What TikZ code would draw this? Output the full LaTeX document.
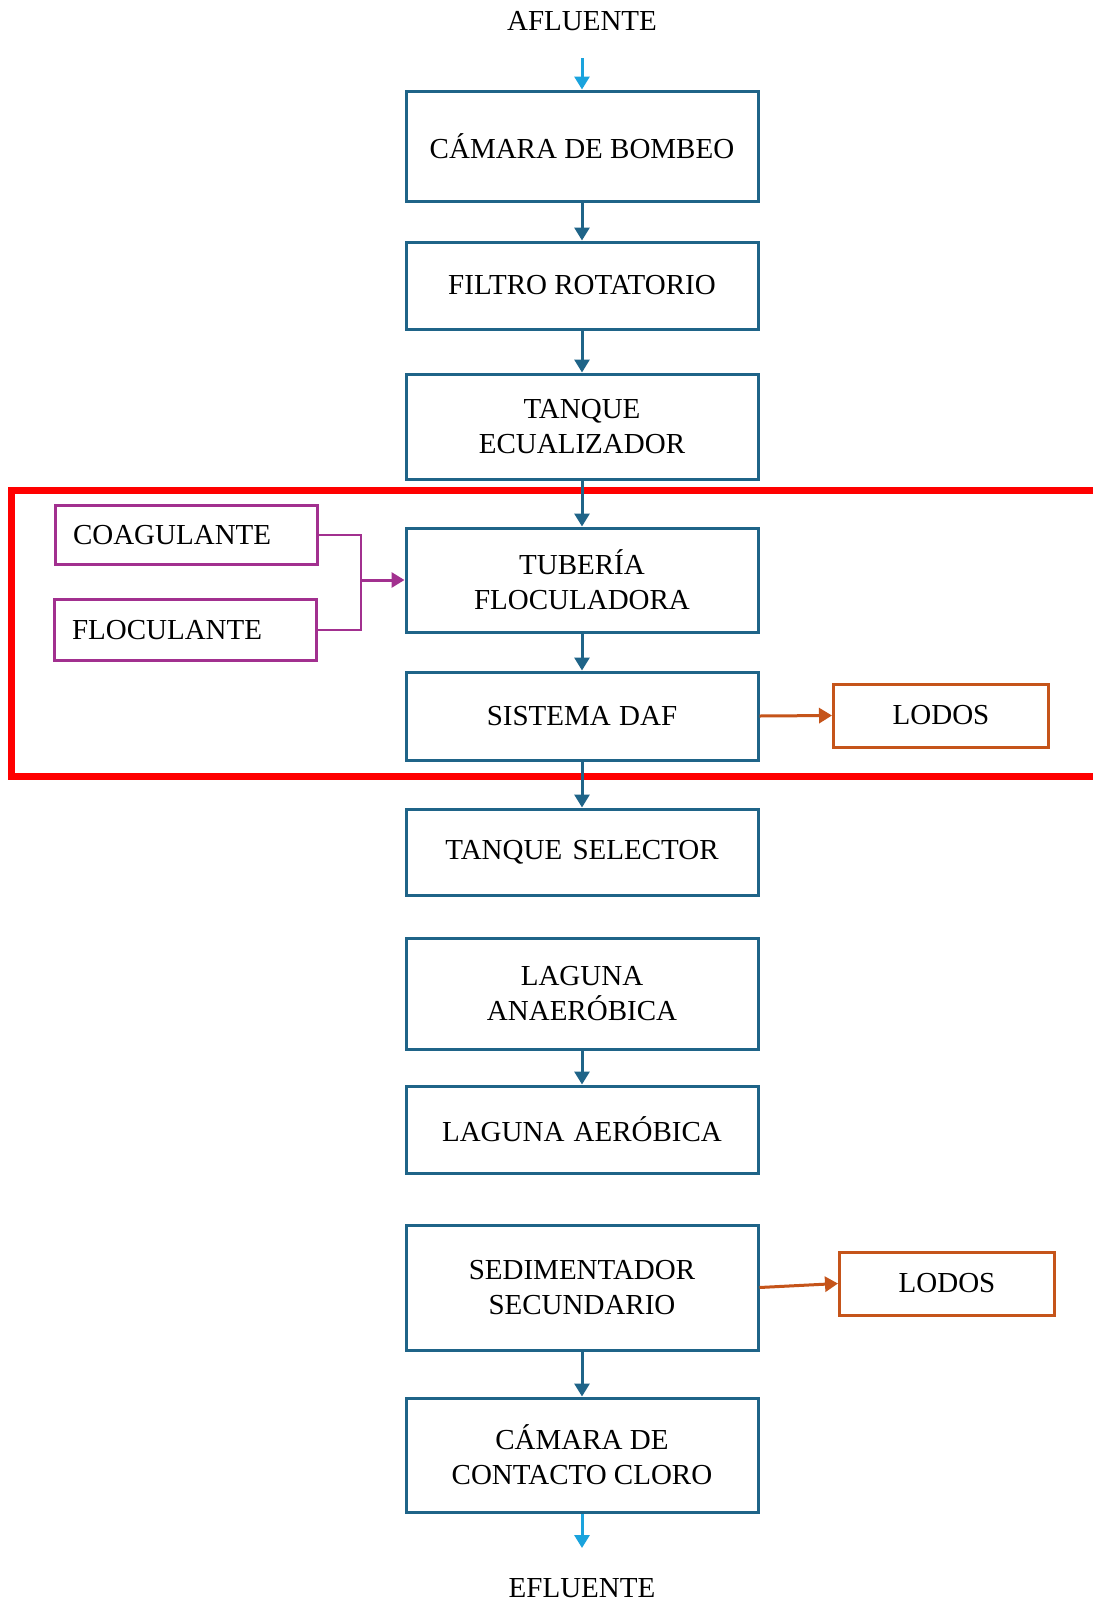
\documentclass[tikz,border=0pt]{standalone}
\usepackage{fontspec}
\setmainfont{Liberation Serif}
\usetikzlibrary{arrows.meta}
\definecolor{boxblue}{HTML}{1F6488}
\definecolor{lightblue}{HTML}{1AA3DD}
\definecolor{purp}{HTML}{A2308F}
\definecolor{orng}{HTML}{C5541A}
\definecolor{redline}{HTML}{FF0000}
\tikzset{
  mainbox/.style={draw=boxblue, line width=3pt, minimum width=352pt, align=center, inner sep=0pt, font=\fontsize{29}{35}\selectfont},
  sidebox/.style={draw=orng, line width=3pt, minimum width=215pt, minimum height=63pt, inner sep=0pt, font=\fontsize{29}{35}\selectfont},
  chembox/.style={draw=purp, line width=3pt, text width=226pt, inner xsep=18pt, inner ysep=0pt, align=left, font=\fontsize{29}{35}\selectfont},
  plain/.style={inner sep=0pt, font=\fontsize{29}{35}\selectfont},
  tip/.style={-{Triangle[length=13pt,width=15pt]}},
  flow/.style={draw=boxblue, line width=3pt, tip},
  ioflow/.style={draw=lightblue, line width=3pt, tip},
  sludge/.style={draw=orng, line width=3pt, tip},
  chemline/.style={draw=purp, line width=1.6pt},
  chemflow/.style={draw=purp, line width=3pt, tip},
}
\begin{document}
\begin{tikzpicture}[x=1pt,y=-1pt]
\useasboundingbox (0,0) rectangle (1093,1601);
\fill[white] (0,0) rectangle (1093,1601);

% red frame (open to the right)
\draw[redline, line width=7pt] (1093,490) -- (11.5,490) -- (11.5,776) -- (1093,776);

\node[plain] (afl) at (582,21) {AFLUENTE};
\coordinate (ain) at (582,58);

\node[mainbox, minimum height=110pt] (cam) at (582,146) {CÁMARA DE BOMBEO};
\node[mainbox, minimum height=87pt] (fil) at (582,285.5) {FILTRO ROTATORIO};
\node[mainbox, minimum height=105pt] (tan) at (582,426.5) {TANQUE\\ECUALIZADOR};
\node[mainbox, minimum height=104pt] (tub) at (582,580) {TUBERÍA\\FLOCULADORA};
\node[mainbox, minimum height=88pt] (daf) at (582,716) {SISTEMA\hspace{1pt} DAF};
\node[mainbox, minimum height=86pt] (sel) at (582,852) {TANQUE\hspace{3pt} SELECTOR};
\node[mainbox, minimum height=111pt] (ana) at (582,993.5) {LAGUNA\\ANAERÓBICA};
\node[mainbox, minimum height=87pt] (aer) at (582,1129.5) {LAGUNA\hspace{2pt} AERÓBICA};
\node[mainbox, minimum height=125pt] (sed) at (582,1287.5) {SEDIMENTADOR\\SECUNDARIO};
\node[mainbox, minimum height=114pt] (clo) at (582,1455) {CÁMARA DE\\CONTACTO CLORO};

\coordinate (eout) at (582,1548);
\node[plain] (efl) at (582,1588) {EFLUENTE};

\node[sidebox] (lod1) at (941,715.5) {LODOS};
\node[sidebox] (lod2) at (947,1283.5) {LODOS};

\node[chembox, minimum height=59pt] (coag) at (186,535) {COAGULANTE};
\node[chembox, minimum height=61pt] (floc) at (185,630) {FLOCULANTE};
\coordinate (jn) at (361,580);

% connectors
\draw[ioflow] (ain) -- (cam.north);
\draw[flow] (cam.south) -- (fil.north);
\draw[flow] (fil.south) -- (tan.north);
\draw[flow] (tan.south) -- (tub.north);
\draw[flow] (tub.south) -- (daf.north);
\draw[flow] (daf.south) -- (sel.north);
\draw[flow] (ana.south) -- (aer.north);
\draw[flow] (sed.south) -- (clo.north);
\draw[ioflow] (clo.south) -- (eout);

\draw[sludge] (daf.east) -- (lod1.west);
\draw[sludge] (sed.east) -- (lod2.west);

\draw[chemline] (coag.east) -| (jn) |- (floc.east);
\draw[chemflow] (jn) -- (tub.west);
\end{tikzpicture}
\end{document}
